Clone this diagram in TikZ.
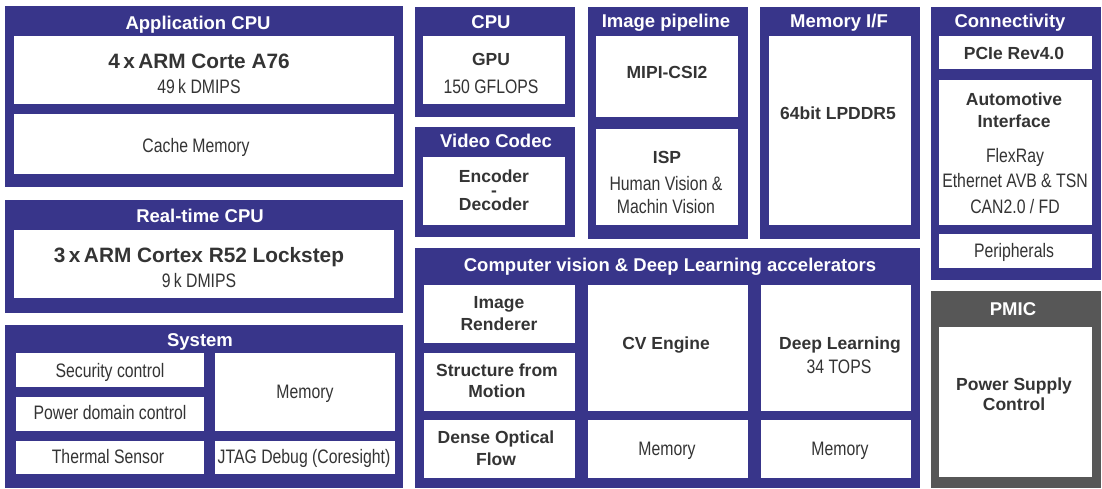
\documentclass[tikz,border=0pt]{standalone}
\usepackage{fontspec}
\setmainfont{Liberation Sans}
\newfontfamily\condfont{Liberation Sans}[FakeStretch=0.81]
\usepackage{tikz}
\usetikzlibrary{positioning}
\definecolor{myblue1}{RGB}{56, 53, 138}
\definecolor{mygray1}{RGB}{87, 87, 87}
\definecolor{mygray2}{RGB}{52, 52, 52}

\begin{document}
\begin{tikzpicture}[
    x = 1pt, y = -1pt,
    b0/.style = {fill = myblue1},
    g0/.style = {fill = mygray1},
    w0/.style = {fill = white},
    t0/.style = {anchor = base, inner sep = 0, text = white, font = \bfseries\fontsize{18.5}{20}\selectfont},
    t1/.style = {anchor = base, inner sep = 0, text = mygray2, font = \bfseries\fontsize{17.5}{19}\selectfont},
    t2/.style = {t1, font = \bfseries\fontsize{20.8}{22}\selectfont},
    t3/.style = {anchor = base, inner sep = 0, text = mygray2, font = \condfont\fontsize{19.5}{21}\selectfont}
]

\useasboundingbox (0,0) rectangle (1102,488);

% Application CPU
\fill[b0] (5,6) rectangle (403,187);
\fill[w0] (14,36) rectangle (394,104);
\fill[w0] (14,114) rectangle (394,174);
\node[t0] (appT) at (198,29) {Application CPU};
\node[t2] (appCore) at (199,68) {4\,x\,ARM Corte A76};
\node[t3] (appDmips) at (199,93) {49\,k DMIPS};
\node[t3] (appCache) at (196,152) {Cache Memory};

% Real-time CPU
\fill[b0] (5,200) rectangle (403,313);
\fill[w0] (14,230) rectangle (394,298);
\node[t0] (rtT) at (200,222) {Real-time CPU};
\node[t2] (rtCore) at (199,262) {3\,x\,ARM Cortex R52 Lockstep};
\node[t3] (rtDmips) at (199,287) {9\,k DMIPS};

% System
\fill[b0] (5,325) rectangle (403,488);
\fill[w0] (16,353) rectangle (204,387);
\fill[w0] (16,397) rectangle (204,431);
\fill[w0] (16,441) rectangle (204,474);
\fill[w0] (215,353) rectangle (395,431);
\fill[w0] (215,441) rectangle (395,474);
\node[t0] (sysT) at (200,346) {System};
\node[t3] (sysSec) at (110,377) {Security control};
\node[t3] (sysPwr) at (110,419) {Power domain control};
\node[t3] (sysThm) at (108,463) {Thermal Sensor};
\node[t3] (sysMem) at (305,398) {Memory};
\node[t3] (sysJtag) at (304,463) {JTAG Debug (Coresight)};

% CPU
\fill[b0] (415,7) rectangle (575,117);
\fill[w0] (423,36) rectangle (565,104);
\node[t0] (cpuT) at (491,28) {CPU};
\node[t1] (gpu) at (491,65) {GPU};
\node[t3] (gpuFlops) at (491,93) {150 GFLOPS};

% Video Codec
\fill[b0] (415,127) rectangle (575,237);
\fill[w0] (423,157) rectangle (565,225);
\node[t0] (vcT) at (496,147) {Video Codec};
\node[t1, anchor = center, align = center] (vcCodec) at (494,190) {Encoder\\[-5pt]-\\[-5pt]Decoder};

% Image pipeline
\fill[b0] (588,7) rectangle (748,239);
\fill[w0] (596,36) rectangle (738,117);
\fill[w0] (596,129) rectangle (738,225);
\node[t0] (ipT) at (666,27) {Image pipeline};
\node[t1] (ipMipi) at (667,78) {MIPI-CSI2};
\node[t1] (ipIsp) at (667,163) {ISP};
\node[t3] (ipHuman) at (666,190) {Human Vision \&};
\node[t3] (ipMach) at (666,213) {Machin Vision};

% Memory I/F
\fill[b0] (760,7) rectangle (920,239);
\fill[w0] (769,36) rectangle (911,225);
\node[t0] (mifT) at (839,27) {Memory I/F};
\node[t1] (mifDdr) at (838,119) {64bit LPDDR5};

% Computer vision & Deep Learning
\fill[b0] (415,248) rectangle (920,488);
\fill[w0] (424,285) rectangle (575,343);
\fill[w0] (424,353) rectangle (575,411);
\fill[w0] (424,420) rectangle (575,478);
\fill[w0] (588,285) rectangle (748,411);
\fill[w0] (588,420) rectangle (748,478);
\fill[w0] (761,285) rectangle (911,411);
\fill[w0] (761,420) rectangle (911,478);
\node[t0] (cvT) at (670,271) {Computer vision \& Deep Learning accelerators};
\node[t1] (cvImg) at (499,308) {Image};
\node[t1] (cvRend) at (499,330) {Renderer};
\node[t1] (cvStr) at (497,376) {Structure from};
\node[t1] (cvMot) at (497,397) {Motion};
\node[t1] (cvDense) at (496,443) {Dense Optical};
\node[t1] (cvFlow) at (496,465) {Flow};
\node[t1] (cvEng) at (666,349) {CV Engine};
\node[t3] (cvMem) at (667,455) {Memory};
\node[t1] (dl) at (840,349) {Deep Learning};
\node[t3] (dlTops) at (839,373) {34 TOPS};
\node[t3] (dlMem) at (840,455) {Memory};

% Connectivity
\fill[b0] (931,7) rectangle (1101,280);
\fill[w0] (939,36) rectangle (1092,69);
\fill[w0] (939,80) rectangle (1092,225);
\fill[w0] (939,234) rectangle (1092,268);
\node[t0] (conT) at (1010,27) {Connectivity};
\node[t1] (conPcie) at (1014,59) {PCIe Rev4.0};
\node[t1] (conAuto) at (1014,105) {Automotive};
\node[t1] (conIf) at (1014,127) {Interface};
\node[t3] (conFlex) at (1015,162) {FlexRay};
\node[t3] (conEth) at (1015,187) {Ethernet AVB \& TSN};
\node[t3] (conCan) at (1015,213) {CAN2.0 / FD};
\node[t3] (conPer) at (1014,257) {Peripherals};

% PMIC
\fill[g0] (931,291) rectangle (1101,488);
\fill[w0] (939,327) rectangle (1092,477);
\node[t0] (pmT) at (1013,315) {PMIC};
\node[t1] (pmPwr) at (1014,390) {Power Supply};
\node[t1] (pmCtl) at (1014,410) {Control};

\end{tikzpicture}
\end{document}
